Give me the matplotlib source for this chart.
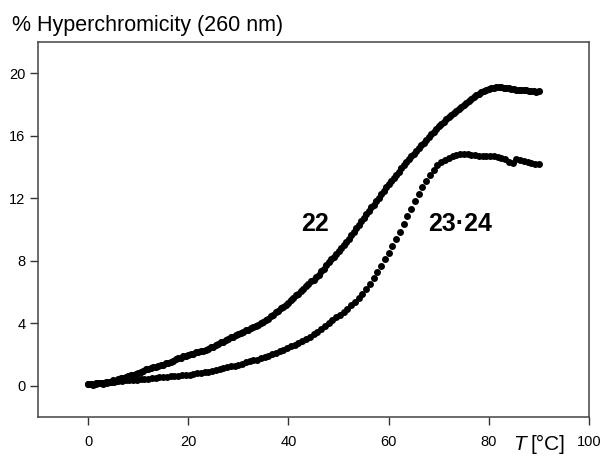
import matplotlib
matplotlib.use("Agg")
import matplotlib.pyplot as plt

plt.rcParams['font.family'] = ['Liberation Sans', 'DejaVu Sans']

# ---- data ----
temp_22 = [
    0.0, 0.5, 1.0, 1.5, 2.0, 2.5, 3.0, 3.5, 4.0, 4.5,
    5.0, 5.5, 6.0, 6.5, 7.0, 7.5, 8.0, 8.5, 9.0, 9.5,
    10.0, 10.5, 11.0, 11.5, 12.0, 12.5, 13.0, 13.5, 14.0, 14.5,
    15.0, 15.5, 16.0, 16.5, 17.0, 17.5, 18.0, 18.5, 19.0, 19.5,
    20.0, 20.5, 21.0, 21.5, 22.0, 22.5, 23.0, 23.5, 24.0, 24.5,
    25.0, 25.5, 26.0, 26.5, 27.0, 27.5, 28.0, 28.5, 29.0, 29.5,
    30.0, 30.5, 31.0, 31.5, 32.0, 32.5, 33.0, 33.5, 34.0, 34.5,
    35.0, 35.5, 36.0, 36.5, 37.0, 37.5, 38.0, 38.5, 39.0, 39.5,
    40.0, 40.5, 41.0, 41.5, 42.0, 42.5, 43.0, 43.5, 44.0, 44.5,
    45.0, 45.5, 46.0, 46.5, 47.0, 47.5, 48.0, 48.5, 49.0, 49.5,
    50.0, 50.5, 51.0, 51.5, 52.0, 52.5, 53.0, 53.5, 54.0, 54.5,
    55.0, 55.5, 56.0, 56.5, 57.0, 57.5, 58.0, 58.5, 59.0, 59.5,
    60.0, 60.5, 61.0, 61.5, 62.0, 62.5, 63.0, 63.5, 64.0, 64.5,
    65.0, 65.5, 66.0, 66.5, 67.0, 67.5, 68.0, 68.5, 69.0, 69.5,
    70.0, 70.5, 71.0, 71.5, 72.0, 72.5, 73.0, 73.5, 74.0, 74.5,
    75.0, 75.5, 76.0, 76.5, 77.0, 77.5, 78.0, 78.5, 79.0, 79.5,
    80.0, 80.5, 81.0, 81.5, 82.0, 82.5, 83.0, 83.5, 84.0, 84.5,
    85.0, 85.5, 86.0, 86.5, 87.0, 87.5, 88.0, 88.5, 89.0, 89.5,
    90.0,
]
hyper_22 = [
    0.10, 0.12, 0.08, 0.16, 0.15, 0.20, 0.14, 0.24, 0.25, 0.22,
    0.35, 0.30, 0.45, 0.48, 0.52, 0.58, 0.60, 0.70, 0.68, 0.76,
    0.82, 0.88, 0.95, 1.05, 1.10, 1.12, 1.20, 1.22, 1.25, 1.34,
    1.35, 1.45, 1.45, 1.55, 1.60, 1.70, 1.75, 1.80, 1.88, 1.92,
    1.95, 2.04, 2.05, 2.14, 2.15, 2.22, 2.25, 2.32, 2.35, 2.45,
    2.50, 2.60, 2.65, 2.78, 2.82, 2.92, 3.00, 3.10, 3.15, 3.25,
    3.30, 3.40, 3.45, 3.55, 3.60, 3.70, 3.75, 3.85, 3.90, 4.02,
    4.10, 4.22, 4.30, 4.45, 4.55, 4.70, 4.80, 4.95, 5.05, 5.20,
    5.30, 5.48, 5.60, 5.78, 5.90, 6.08, 6.20, 6.38, 6.50, 6.68,
    6.80, 6.98, 7.10, 7.32, 7.50, 7.72, 7.90, 8.10, 8.25, 8.45,
    8.60, 8.82, 9.00, 9.22, 9.40, 9.65, 9.85, 10.10, 10.30, 10.55,
    10.75, 11.00, 11.20, 11.42, 11.60, 11.82, 12.00, 12.25, 12.45, 12.70,
    12.90, 13.12, 13.30, 13.52, 13.70, 13.92, 14.10, 14.32, 14.50, 14.70,
    14.85, 15.05, 15.20, 15.40, 15.55, 15.75, 15.90, 16.10, 16.25, 16.45,
    16.60, 16.78, 16.90, 17.08, 17.20, 17.35, 17.45, 17.60, 17.70, 17.85,
    17.95, 18.10, 18.20, 18.35, 18.45, 18.60, 18.70, 18.80, 18.85, 18.95,
    19.00, 19.06, 19.08, 19.12, 19.10, 19.12, 19.08, 19.06, 19.05, 19.00,
    18.98, 18.95, 18.95, 18.90, 18.90, 18.92, 18.88, 18.85, 18.88, 18.82,
    18.85,
]

temp_2324 = [
    0.00, 0.75, 1.50, 2.25, 3.00, 3.75, 4.50, 5.25, 6.00, 6.75,
    7.50, 8.25, 9.00, 9.75, 10.50, 11.25, 12.00, 12.75, 13.50, 14.25,
    15.00, 15.75, 16.50, 17.25, 18.00, 18.75, 19.50, 20.25, 21.00, 21.75,
    22.50, 23.25, 24.00, 24.75, 25.50, 26.25, 27.00, 27.75, 28.50, 29.25,
    30.00, 30.75, 31.50, 32.25, 33.00, 33.75, 34.50, 35.25, 36.00, 36.75,
    37.50, 38.25, 39.00, 39.75, 40.50, 41.25, 42.00, 42.75, 43.50, 44.25,
    45.00, 45.75, 46.50, 47.25, 48.00, 48.75, 49.50, 50.25, 51.00, 51.75,
    52.50, 53.25, 54.00, 54.75, 55.50, 56.25, 57.00, 57.75, 58.50, 59.25,
    60.00, 60.75, 61.50, 62.25, 63.00, 63.75, 64.50, 65.25, 66.00, 66.75,
    67.50, 68.25, 69.00, 69.75, 70.50, 71.25, 72.00, 72.75, 73.50, 74.25,
    75.00, 75.75, 76.50, 77.25, 78.00, 78.75, 79.50, 80.25, 81.00, 81.75,
    82.50, 83.25, 84.00, 84.75, 85.50, 86.25, 87.00, 87.75, 88.50, 89.25,
    90.00,
]
hyper_2324 = [
    0.10, 0.12, 0.14, 0.16, 0.18, 0.20, 0.22, 0.26, 0.30, 0.32,
    0.34, 0.36, 0.38, 0.40, 0.41, 0.43, 0.45, 0.49, 0.52, 0.56,
    0.58, 0.59, 0.61, 0.63, 0.65, 0.67, 0.69, 0.71, 0.75, 0.79,
    0.82, 0.86, 0.90, 0.96, 1.01, 1.07, 1.12, 1.18, 1.24, 1.29,
    1.35, 1.42, 1.50, 1.57, 1.62, 1.68, 1.75, 1.82, 1.90, 2.01,
    2.12, 2.24, 2.32, 2.42, 2.52, 2.64, 2.75, 2.88, 3.01, 3.15,
    3.30, 3.45, 3.62, 3.81, 4.00, 4.19, 4.38, 4.56, 4.75, 4.94,
    5.15, 5.38, 5.60, 5.90, 6.20, 6.52, 6.90, 7.28, 7.65, 8.09,
    8.50, 8.95, 9.40, 9.86, 10.35, 10.84, 11.32, 11.81, 12.30, 12.71,
    13.12, 13.50, 13.80, 14.10, 14.30, 14.45, 14.60, 14.70, 14.80, 14.85,
    14.85, 14.82, 14.78, 14.75, 14.70, 14.70, 14.72, 14.70, 14.68, 14.65,
    14.60, 14.50, 14.30, 14.25, 14.50, 14.48, 14.40, 14.30, 14.25, 14.22,
    14.20,
]

x_ticks = [0, 20, 40, 60, 80, 100]
y_ticks = [0, 4, 8, 12, 16, 20]
series_labels = ["22", "23\u00b724"]
label_pos = [(45.3, 10.35), (74.2, 10.35)]

# ---- figure ----
fig = plt.figure(figsize=(6.07, 4.59), dpi=100)
ax = fig.add_axes([38 / 607, 1 - 417 / 459, (589 - 38) / 607, (417 - 42) / 459])

ax.plot(temp_22, hyper_22, 'o', ms=5.1, color='black', mec='none')
ax.plot(temp_2324, hyper_2324, 'o', ms=5.0, color='black', mec='none')

ax.set_xlim(-10, 100)
ax.set_ylim(-2, 22)
ax.set_xticks(x_ticks)
ax.set_yticks(y_ticks)

for s in ax.spines.values():
    s.set_color('#444444')
    s.set_linewidth(1.1)
ax.tick_params(axis='both', direction='out', length=6, width=1.0,
               color='#333333', labelsize=10.5, labelcolor='black')
ax.tick_params(axis='y', pad=3)
ax.tick_params(axis='x', pad=7)

for lab, (tx, ty) in zip(series_labels, label_pos):
    ax.text(tx, ty, lab, fontsize=18, fontweight='bold',
            ha='center', va='center')

fig.text(12 / 607, 1 - 31 / 459, "% Hyperchromicity (260 nm)",
         fontsize=15.5, ha='left', va='baseline')
fig.text(513 / 607, 1 - 450 / 459, "T", fontstyle='italic',
         fontsize=15, ha='left', va='baseline')
fig.text(531 / 607, 1 - 450 / 459, "[°C]",
         fontsize=15, ha='left', va='baseline')

fig.savefig("out.png", dpi=100)
